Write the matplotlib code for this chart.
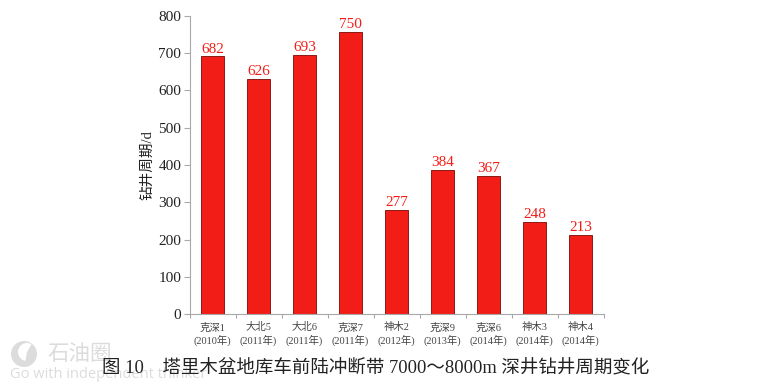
"""Drilling cycle bar chart, deep wells in the Kuqa foreland thrust belt."""

import matplotlib
matplotlib.use("Agg")
import matplotlib.pyplot as plt
from matplotlib.patches import Circle, Wedge
import numpy as np

# ============================================================
# Data
# ============================================================

wells = ["克深1", "大北5", "大北6", "克深7", "神木2", "克深9", "克深6", "神木3", "神木4"]
years = ["2010年", "2011年", "2011年", "2011年", "2012年", "2013年", "2014年", "2014年", "2014年"]

# bar heights as drawn differ a little from the printed labels
bar_heights = [691, 631, 696, 757, 280, 387, 371, 248, 213]
bar_labels = [682, 626, 693, 750, 277, 384, 367, 248, 213]

y_ticks = [0, 100, 200, 300, 400, 500, 600, 700, 800]

# ============================================================
# Style
# ============================================================

W, H = 775, 388
FONTS = ["Liberation Serif", "Noto Sans CJK SC"]
RED = "#f21d16"
GREY = "#a8a8a8"
TEXT = "#222222"
MARK = "#dcdcdc"

plt.rcParams["font.family"] = FONTS

fig = plt.figure(figsize=(W / 100, H / 100), dpi=100)
ax = fig.add_axes([189.5 / W, 1 - 314.3 / H, 414 / W, 298.6 / H])

# ============================================================
# Watermark (sits under everything)
# ============================================================

bg = fig.add_axes([0, 0, 1, 1], zorder=-1)
bg.set_xlim(0, W)
bg.set_ylim(H, 0)
bg.axis("off")
bg.add_patch(Circle((24, 354), 13, color=MARK, lw=0))
bg.add_patch(Wedge((27, 352), 9, 100, 300, color="white", lw=0))
bg.text(47, 354, "石油圈", fontsize=15.5, color=MARK, va="center", ha="left",
        family=["Noto Sans CJK SC"])
bg.text(10, 375, "Go with independent thinker", fontsize=10.5, color=MARK,
        va="center", ha="left", family=["Open Sans"])

# ============================================================
# Bars
# ============================================================

x = np.arange(len(wells))

ax.bar(x, bar_heights, width=0.48, color=RED, edgecolor="#8c1a14", linewidth=0.7)

for xi, height, label in zip(x, bar_heights, bar_labels):
    ax.text(xi, height + 2, str(label), color=RED, fontsize=11,
            ha="center", va="bottom")

ax.set_xlim(-0.5, len(wells) - 0.5)
ax.set_ylim(0, 800)
ax.patch.set_alpha(0)

ax.spines["top"].set_visible(False)
ax.spines["right"].set_visible(False)
ax.spines["left"].set_color(GREY)
ax.spines["bottom"].set_color(GREY)

ax.set_yticks(y_ticks)
ax.tick_params(axis="y", labelsize=11, length=4, width=0.8, color=GREY,
               labelcolor=TEXT, pad=2)

# ticks sit on the bin edges, labels under the bar centres
ax.set_xticks(np.arange(len(wells) + 1) - 0.5)
ax.set_xticklabels([])
ax.tick_params(axis="x", length=3, width=0.8, color=GREY)

for xi, well, year in zip(x, wells, years):
    ax.annotate(well, (xi, 0), xytext=(0, -9.5), textcoords="offset points",
                ha="center", va="center", fontsize=7.5, color="#444444")
    ax.annotate(f"({year})", (xi, 0), xytext=(0, -19), textcoords="offset points",
                ha="center", va="center", fontsize=7.5, color="#444444")

ax.set_ylabel("钻井周期/d", fontsize=10.5, color=TEXT, labelpad=3, y=0.5)

fig.text(375.5 / W, 1 - 369 / H, "图 10    塔里木盆地库车前陆冲断带 7000～8000m 深井钻井周期变化",
         fontsize=13.3, color=TEXT, ha="center", va="center")

fig.savefig("out.png", dpi=100)
